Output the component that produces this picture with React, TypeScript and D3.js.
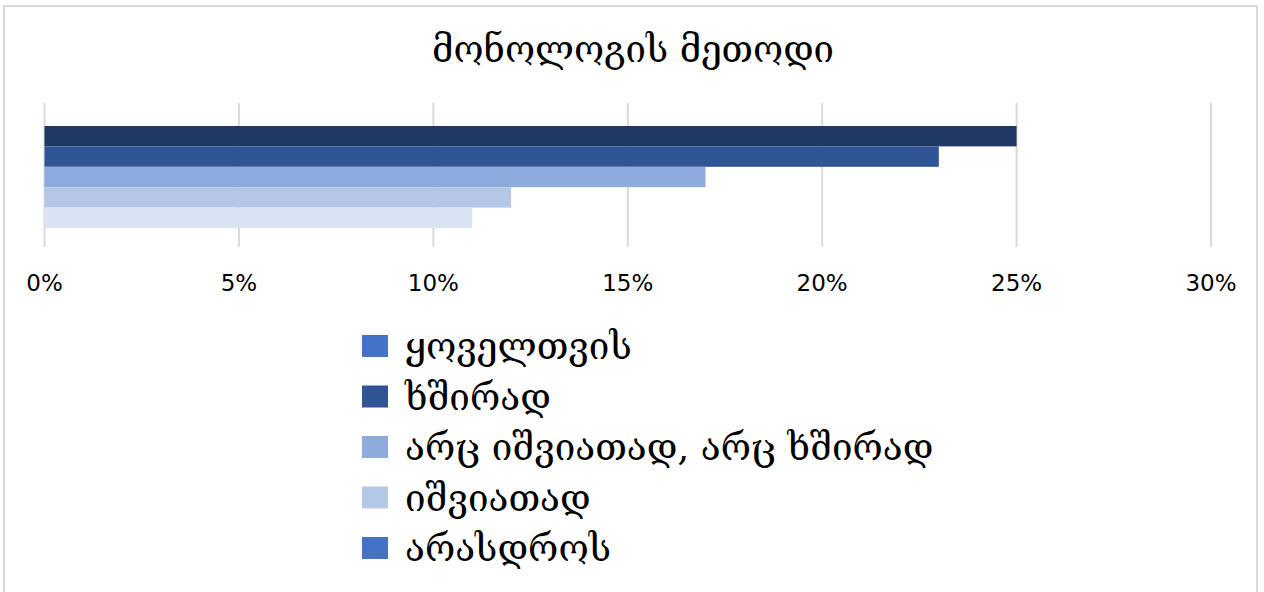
import React from "react";
import * as d3 from "d3";

const title = "მონოლოგის მეთოდი";
const seriesNames = ["ყოველთვის", "ხშირად", "არც იშვიათად, არც ხშირად", "იშვიათად", "არასდროს"];
const barValues = [0.25, 0.23, 0.17, 0.12, 0.11];
const barColors = ["#203864", "#2F5597", "#8FAADC", "#B4C7E7", "#DAE3F3"];
const legendColors = ["#4472C4", "#2F5597", "#8FAADC", "#B4C7E7", "#4472C4"];
const tickValues = [0, 0.05, 0.1, 0.15, 0.2, 0.25, 0.3];

const W = 1264;
const H = 592;
const geoFont = "'DejaVu Serif', 'DejaVu Sans', serif";
const tickFont = "'DejaVu Sans', sans-serif";

export default function App() {
  const x = d3.scaleLinear().domain([0, 0.3]).range([44.5, 1211]);
  const y = d3
    .scaleBand<number>()
    .domain(barValues.map((_, i) => i))
    .range([126, 228])
    .paddingInner(0);
  const fmt = d3.format(".0%");
  const legendY = d3
    .scaleLinear()
    .domain([0, seriesNames.length - 1])
    .range([347, 549]);

  return (
    <svg
      width={W}
      height={H}
      style={{ position: "absolute", left: 0, top: 0, background: "#fff" }}
    >
      <rect x={0} y={0} width={W} height={H} fill="#fff" />
      <rect x={4} y={6} width={1253} height={620} fill="#fff" stroke="#d9d9d9" strokeWidth={2} />
      <text
        x={633}
        y={62}
        textAnchor="middle"
        fontFamily={geoFont}
        fontSize={36.5}
        fill="#000"
      >
        {title}
      </text>
      {tickValues.map((t) => (
        <line
          key={"g" + t}
          x1={x(t)}
          x2={x(t)}
          y1={103}
          y2={247}
          stroke="#d9d9d9"
          strokeWidth={2}
        />
      ))}
      {barValues.map((v, i) => (
        <rect
          key={"b" + i}
          x={x(0)}
          y={y(i)!}
          width={x(v) - x(0)}
          height={y.bandwidth()}
          fill={barColors[i]}
        />
      ))}
      {tickValues.map((t) => (
        <text
          key={"t" + t}
          x={x(t)}
          y={291}
          textAnchor="middle"
          fontFamily={tickFont}
          fontSize={23}
          fill="#000"
        >
          {fmt(t)}
        </text>
      ))}
      {seriesNames.map((s, i) => (
        <g key={"l" + i} transform={`translate(0, ${legendY(i)})`}>
          <rect x={362} y={-12} width={26} height={22} fill={legendColors[i]} />
          <text
            x={405}
            y={12}
            fontFamily={geoFont}
            fontSize={36.8}
            fill="#000"
          >
            {s}
          </text>
        </g>
      ))}
    </svg>
  );
}
